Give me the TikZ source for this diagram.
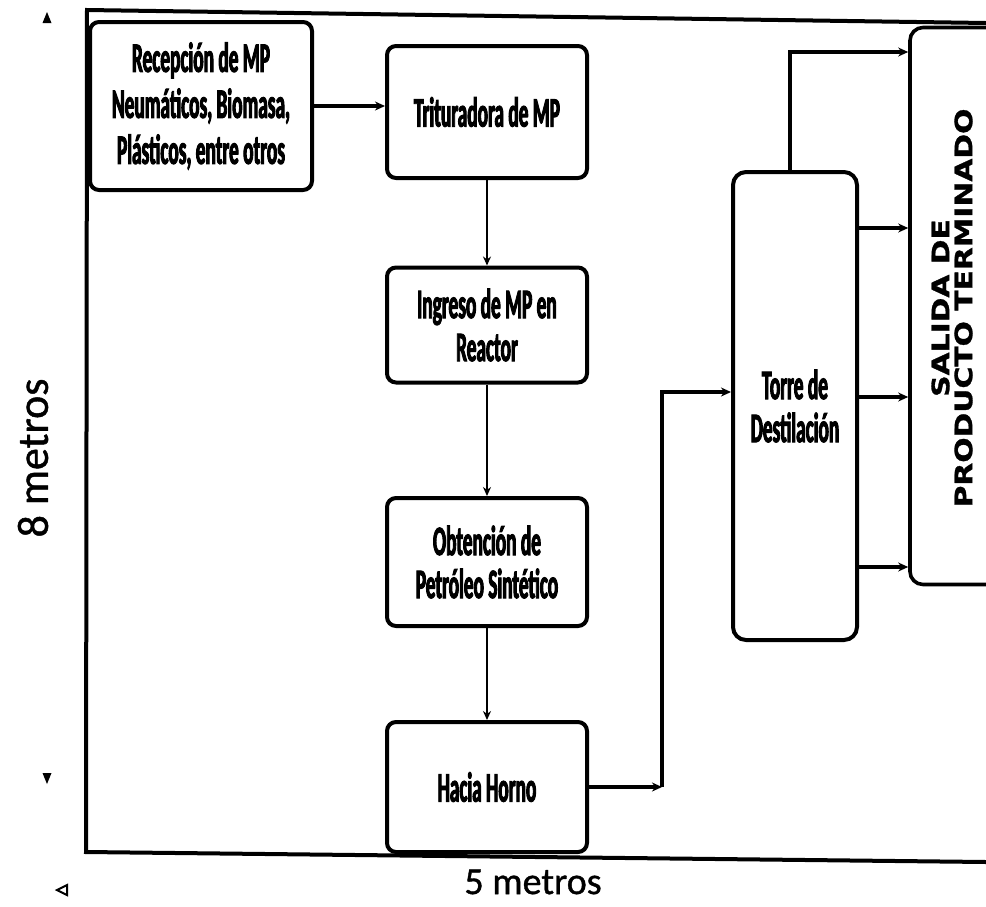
\documentclass[tikz,border=0pt]{standalone}
\usepackage{fontspec}
\usetikzlibrary{arrows.meta}
\newfontfamily\condfont[FakeStretch=0.46,FakeBold=2.2]{Carlito}
\newfontfamily\labfont[FakeBold=1]{Carlito}
\newfontfamily\widefont[FakeStretch=1.24,FakeBold=1.2]{DejaVu Sans}
\tikzset{
  box/.style={draw, line width=4pt, rounded corners=9pt, minimum width=200pt, inner sep=0pt, align=center,
    font=\condfont\bfseries\fontsize{42}{43}\selectfont},
  conn/.style={line width=3.6pt, -{Stealth[length=10pt,width=9pt]}},
  thinconn/.style={line width=2.6pt, -{Stealth[length=9pt,width=8pt]}},
  frame/.style={line width=4pt},
  dimlabel/.style={font=\labfont\fontsize{38}{40}\selectfont, inner sep=0pt},
}
\begin{document}
\begin{tikzpicture}[x=1pt,y=-1pt]
\useasboundingbox (0,0) rectangle (986,906);
\fill[white] (0,0) rectangle (986,906);
% frame (open on the right)
\draw[frame] (986,23) -- (87,10) -- (86,852) -- (986,862);
% small dimension marks
\fill (47,12) -- (42.5,23) -- (51.5,23) -- cycle;
\fill (42.5,773) -- (51.5,773) -- (47,784) -- cycle;
\draw[line width=2pt] (57,890) -- (67,885) -- (67,895) -- cycle;
% boxes
\node[box, minimum width=222pt, minimum height=168pt, font=\condfont\bfseries\fontsize{42}{46}\selectfont] (recep) at (201,106)
  {Recepción de MP\\Neumáticos, Biomasa,\\Plásticos, entre otros};
\node[box, minimum height=132pt] (trit) at (487,112) {Trituradora de MP};
\node[box, minimum height=115pt] (ingreso) at (487,325) {Ingreso de MP en\\Reactor};
\node[box, minimum height=128pt] (obten) at (487,562) {Obtención de\\Petróleo Sintético};
\node[box, minimum height=130pt] (horno) at (487,787) {Hacia Horno};
\node[box, minimum width=124pt, minimum height=468pt, rounded corners=13pt] (torre) at (795,406) {Torre de\\Destilación};
\node[draw, line width=3.6pt, rounded corners=13pt, minimum width=120pt, minimum height=557pt] (salida) at (970,306) {};
\node[rotate=90, align=center, inner sep=0pt, font=\widefont\bfseries\fontsize{24}{23}\selectfont] (salidatxt) at (952,308)
  {SALIDA DE\\PRODUCTO TERMINADO};
% labels
\node[dimlabel, rotate=90, font=\labfont\fontsize{44}{46}\selectfont] (ocho) at (33,458) {8 metros};
\node[dimlabel] (cinco) at (533,882) {5 metros};
% connectors
\draw[conn] (recep.east) -- (recep.east -| trit.west);
\draw[thinconn] (trit) -- (ingreso);
\draw[thinconn] (ingreso) -- (obten);
\draw[thinconn] (obten) -- (horno);
\coordinate (hk) at (662,787);
\draw[conn] (horno.east) -- (hk);
\draw[conn] (hk) |- ([yshift=14pt]torre.west);
\draw[conn] ([xshift=-5pt]torre.north) |- (salida.west |- 0,52);
\draw[conn] (torre.east |- 0,228) -- (salida.west |- 0,228);
\draw[conn] (torre.east |- 0,397) -- (salida.west |- 0,397);
\draw[conn] (torre.east |- 0,567) -- (salida.west |- 0,567);
\end{tikzpicture}
\end{document}
